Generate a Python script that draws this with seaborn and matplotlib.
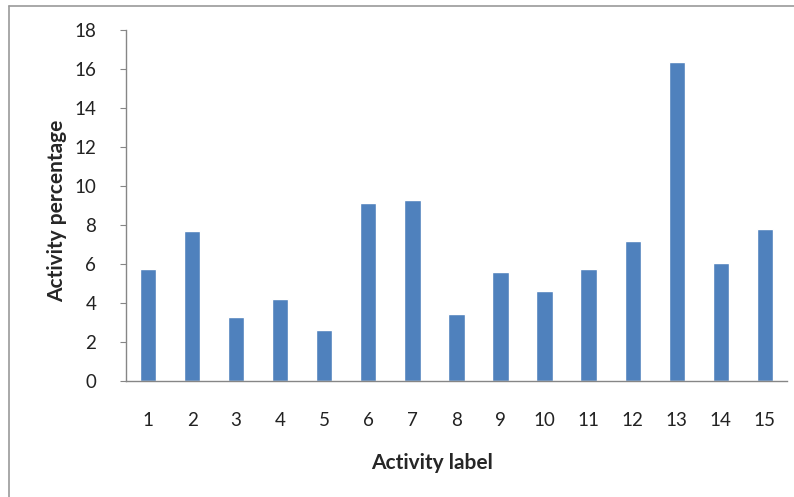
import seaborn as sns
import pandas as pd
import matplotlib
matplotlib.use("Agg")
from matplotlib import pyplot as plt
from matplotlib.lines import Line2D

# values
activity_labels = [str(i) for i in range(1, 16)]
activity_pct = [5.75, 7.7, 3.3, 4.2, 2.6, 9.15, 9.3, 3.45, 5.6, 4.62, 5.75, 7.16, 16.38, 6.03, 7.79]
y_ticks = [0, 2, 4, 6, 8, 10, 12, 14, 16, 18]

df = pd.DataFrame({'label': activity_labels, 'pct': activity_pct})

sns.set_style("white")
plt.rcParams['font.family'] = ['Lato', 'DejaVu Sans']

fig = plt.figure(figsize=(7.94, 4.97), dpi=100)
ax = fig.add_axes([0.1587, 0.2334, 0.8323, 0.7062])
sns.barplot(data=df, x='label', y='pct', color='#4F81BD', saturation=1, width=0.37, ax=ax)

ax.set_xlim(-0.5, 14.5)
ax.set_ylim(0, 18)
ax.set_yticks(y_ticks)
ax.set_yticklabels([str(t) for t in y_ticks])

axis_col = '#868686'
for s in ['top', 'right']:
    ax.spines[s].set_visible(False)
for s in ['left', 'bottom']:
    ax.spines[s].set_color(axis_col)
    ax.spines[s].set_linewidth(1.0)

ax.tick_params(axis='y', which='major', left=True, length=4.5, color=axis_col, pad=17, labelsize=13.5, labelcolor='#222222')
ax.tick_params(axis='x', which='major', bottom=False, pad=19, labelsize=13.5, labelcolor='#222222')

ax.set_xlabel('Activity label', fontsize=15, fontweight='bold', va='center')
ax.set_ylabel('Activity percentage', fontsize=15, fontweight='bold', va='center')
ax.xaxis.set_label_coords(0.463, -0.234)
ax.yaxis.set_label_coords(-0.104, 0.484)

# chart frame (left and top edges visible in the reference)
fig.add_artist(Line2D([9/794, 9/794], [0, 1 - 6/497], transform=fig.transFigure, color='#9a9a9a', lw=1.2))
fig.add_artist(Line2D([9/794, 1], [1 - 6/497, 1 - 6/497], transform=fig.transFigure, color='#9a9a9a', lw=1.2))

fig.savefig('out.png', dpi=100)
